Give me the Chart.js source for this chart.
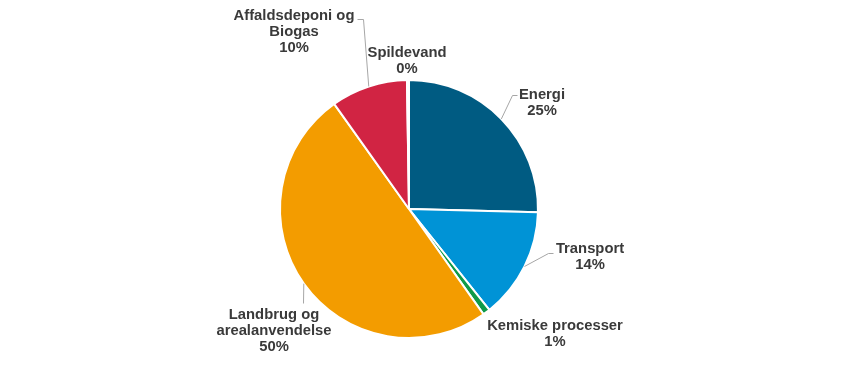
<!DOCTYPE html>
<html>
<head>
<meta charset="utf-8">
<script src="https://cdn.jsdelivr.net/npm/chart.js@4/dist/chart.umd.min.js"></script>
<style>
html,body{margin:0;padding:0;background:#fff;}
#wrap{width:863px;height:390px;position:relative;}
</style>
</head>
<body>
<div id="wrap"><canvas id="c" width="863" height="390"></canvas></div>
<script>
// Data
const categories = ['Energi', 'Transport', 'Kemiske processer', 'Landbrug og arealanvendelse', 'Affaldsdeponi og Biogas', 'Spildevand'];
const labelLines = [['Energi'], ['Transport'], ['Kemiske processer'], ['Landbrug og', 'arealanvendelse'], ['Affaldsdeponi og', 'Biogas'], ['Spildevand']];
const shares = [25.4, 13.9, 0.9, 49.95, 9.6, 0.25];
const colors = ['#005b82', '#0093d6', '#0f9a48', '#f39c00', '#d12443', '#f2f2f2'];

// Label layout (positions of text blocks and leader lines)
const layout = [
  {x: 542, y: 94.5,  leader: [[517, 95], [512, 95]]},
  {x: 590, y: 248.5, leader: [[553, 253], [548, 253]]},
  {x: 555, y: 325.5, leader: null},
  {x: 274, y: 314.5, leader: [[303, 303]]},
  {x: 294, y: 15.5,  leader: [[357, 19], [363, 19]]},
  {x: 407, y: 52.5,  leader: null}
];

const labelPlugin = {
  id: 'pieLabels',
  afterDraw(chart) {
    const ctx = chart.ctx;
    const meta = chart.getDatasetMeta(0);
    const data = chart.data.datasets[0].data;
    const total = data.reduce((a, b) => a + b, 0);
    ctx.save();
    meta.data.forEach((arc, i) => {
      const p = arc.getProps(['x', 'y', 'startAngle', 'endAngle', 'outerRadius'], true);
      const mid = (p.startAngle + p.endAngle) / 2;
      const ax = p.x + Math.cos(mid) * p.outerRadius;
      const ay = p.y + Math.sin(mid) * p.outerRadius;
      const L = layout[i];
      if (L.leader) {
        ctx.beginPath();
        ctx.strokeStyle = '#a6a6a6';
        ctx.lineWidth = 1;
        ctx.moveTo(L.leader[0][0] + 0.5, L.leader[0][1] + 0.5);
        for (let k = 1; k < L.leader.length; k++) ctx.lineTo(L.leader[k][0] + 0.5, L.leader[k][1] + 0.5);
        ctx.lineTo(ax, ay);
        ctx.stroke();
      }
      const lines = labelLines[i].concat([Math.round(data[i] / total * 100) + '%']);
      ctx.fillStyle = '#3a3a3a';
      ctx.font = 'bold 14.8px "Liberation Sans", Arial, sans-serif';
      ctx.textAlign = 'center';
      ctx.textBaseline = 'middle';
      lines.forEach((t, k) => ctx.fillText(t, L.x, L.y + k * 16));
    });
    ctx.restore();
  }
};

new Chart(document.getElementById('c'), {
  type: 'pie',
  data: {
    labels: categories,
    datasets: [{
      data: shares,
      backgroundColor: colors,
      borderColor: '#ffffff',
      borderWidth: 2
    }]
  },
  options: {
    responsive: false,
    animation: false,
    layout: {padding: {top: 79, bottom: 51, left: 0, right: 45}},
    plugins: {legend: {display: false}, tooltip: {enabled: false}}
  },
  plugins: [labelPlugin]
});
</script>
</body>
</html>
